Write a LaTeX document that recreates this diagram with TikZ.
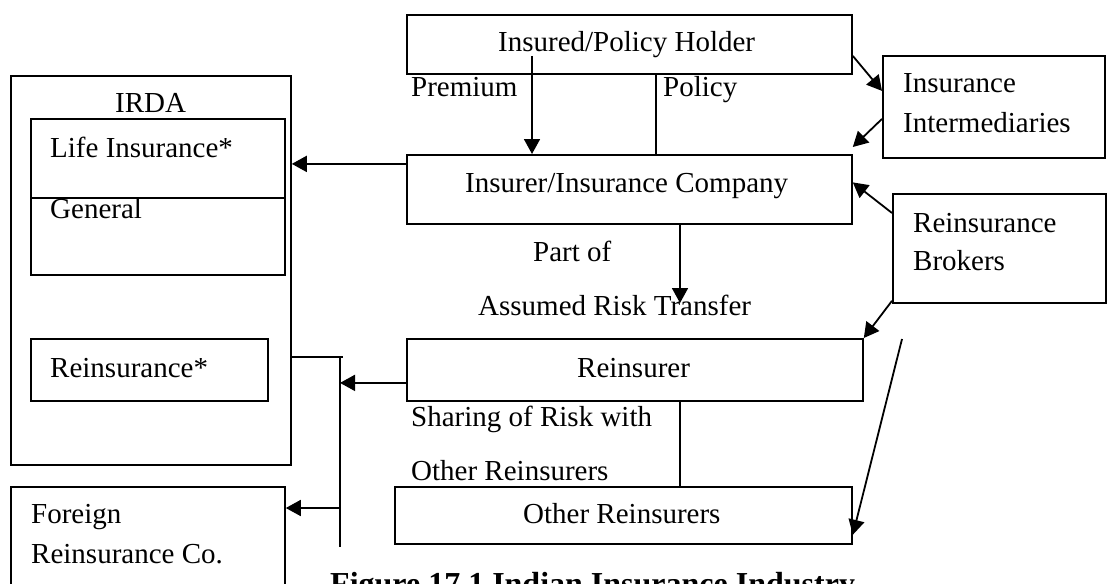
\documentclass[tikz,border=0pt]{standalone}
\usepackage{fontspec}
\setmainfont{Liberation Serif}
\usetikzlibrary{arrows.meta}
\begin{document}
\begin{tikzpicture}[x=1pt,y=-1pt,
  box/.style={draw, line width=1.8pt, inner sep=0pt, anchor=north west},
  txt/.style={anchor=base west, inner sep=0pt, font=\fontsize{29}{34}\selectfont},
  captxt/.style={anchor=base west, inner sep=0pt, font=\fontsize{32}{38}\selectfont\bfseries},
  arr/.style={line width=1.8pt, -{Triangle[length=15pt,width=16pt]}},
  ln/.style={line width=1.8pt}]
\useasboundingbox (0,0) rectangle (1107,583);
% boxes
\node[box, minimum width=445pt, minimum height=59pt] (insured) at (406,14) {};
\node[box, minimum width=445pt, minimum height=69pt] (insurer) at (406,154) {};
\node[box, minimum width=222pt, minimum height=102pt] (inter) at (882,55) {};
\node[box, minimum width=213pt, minimum height=109pt] (brokers) at (892,193) {};
\node[box, minimum width=456pt, minimum height=62pt] (reins) at (406,338) {};
\node[box, minimum width=457pt, minimum height=57pt] (other) at (394,486) {};
\node[box, minimum width=280pt, minimum height=389pt] (irda) at (10,75) {};
\node[box, minimum width=254pt, minimum height=79pt] (life) at (30,118) {};
\node[box, minimum width=254pt, minimum height=77pt] (general) at (30,197) {};
\node[box, minimum width=237pt, minimum height=62pt] (reinsbox) at (30,338) {};
\node[box, minimum width=274pt, minimum height=120pt] (foreign) at (10,486) {};
% texts
\node[txt] (tInsured) at (498,52) {Insured/Policy Holder};
\node[txt] (tInsurer) at (465,192) {Insurer/Insurance Company};
\node[txt] (tReins) at (577,377) {Reinsurer};
\node[txt] (tOther) at (523,523) {Other Reinsurers};
\node[txt] (tPremium) at (411,97) {Premium};
\node[txt] (tPolicy) at (663,97) {Policy};
\node[txt] (tPart) at (533,261) {Part of};
\node[txt] (tAssumed) at (478,315) {Assumed Risk Transfer};
\node[txt] (tSharing) at (411,426) {Sharing of Risk with};
\node[txt] (tSharing2) at (411,480) {Other Reinsurers};
\node[txt] (tInter1) at (903,93) {Insurance};
\node[txt] (tInter2) at (903,132) {Intermediaries};
\node[txt] (tBrok1) at (913,232) {Reinsurance};
\node[txt] (tBrok2) at (913,270) {Brokers};
\node[txt] (tIrda) at (115,113) {IRDA};
\node[txt] (tLife) at (50,157) {Life Insurance*};
\node[txt] (tGeneral) at (50,218) {General};
\node[txt] (tReinsS) at (50,377) {Reinsurance*};
\node[txt] (tForeign1) at (31,523) {Foreign};
\node[txt] (tForeign2) at (31,563) {Reinsurance Co.};
\node[captxt] (caption) at (330,594) {Figure 17.1 Indian Insurance Industry};
% free-end coordinates
\coordinate (pA) at (532,56);
\coordinate (pB) at (656,0);
\coordinate (pC) at (680,303);
\coordinate (pD) at (902,339);
\coordinate (jL) at (343,357);
\coordinate (jT) at (340,357);
\coordinate (jB) at (340,547);
\coordinate (jF) at (340,508);
% connectors
\draw[arr] (pA) -- (pA |- insurer.north);
\draw[ln] (insured.south -| pB) -- (insurer.north -| pB);
\draw[arr] ([yshift=-11.5pt]insured.east) -- ([yshift=16pt]inter.west);
\draw[arr] ([yshift=-12pt]inter.west) -- ([yshift=7pt]insurer.north east);
\draw[arr] ([yshift=-20pt]brokers.north west) -- ([yshift=7pt]insurer.east);
\draw[arr] ([yshift=3pt]brokers.south west) -- (reins.north east);
\draw[arr] (pD) -- ([yshift=10pt]other.south east);
\draw[arr] ([yshift=25.5pt]insurer.west) -- ([yshift=25.5pt]insurer.west -| irda.east);
\draw[arr] (insurer.south -| pC) -- (pC);
\draw[ln] (reins.south -| pC) -- (other.north -| pC);
\draw[ln] (irda.east |- jL) -- (jL);
\draw[ln] (jT) -- (jB);
\draw[arr] ([yshift=-13pt]reins.west) -- ([yshift=-13pt]reins.west -| jT);
\draw[arr] (jF) -- (foreign.east |- jF);
\end{tikzpicture}
\end{document}
